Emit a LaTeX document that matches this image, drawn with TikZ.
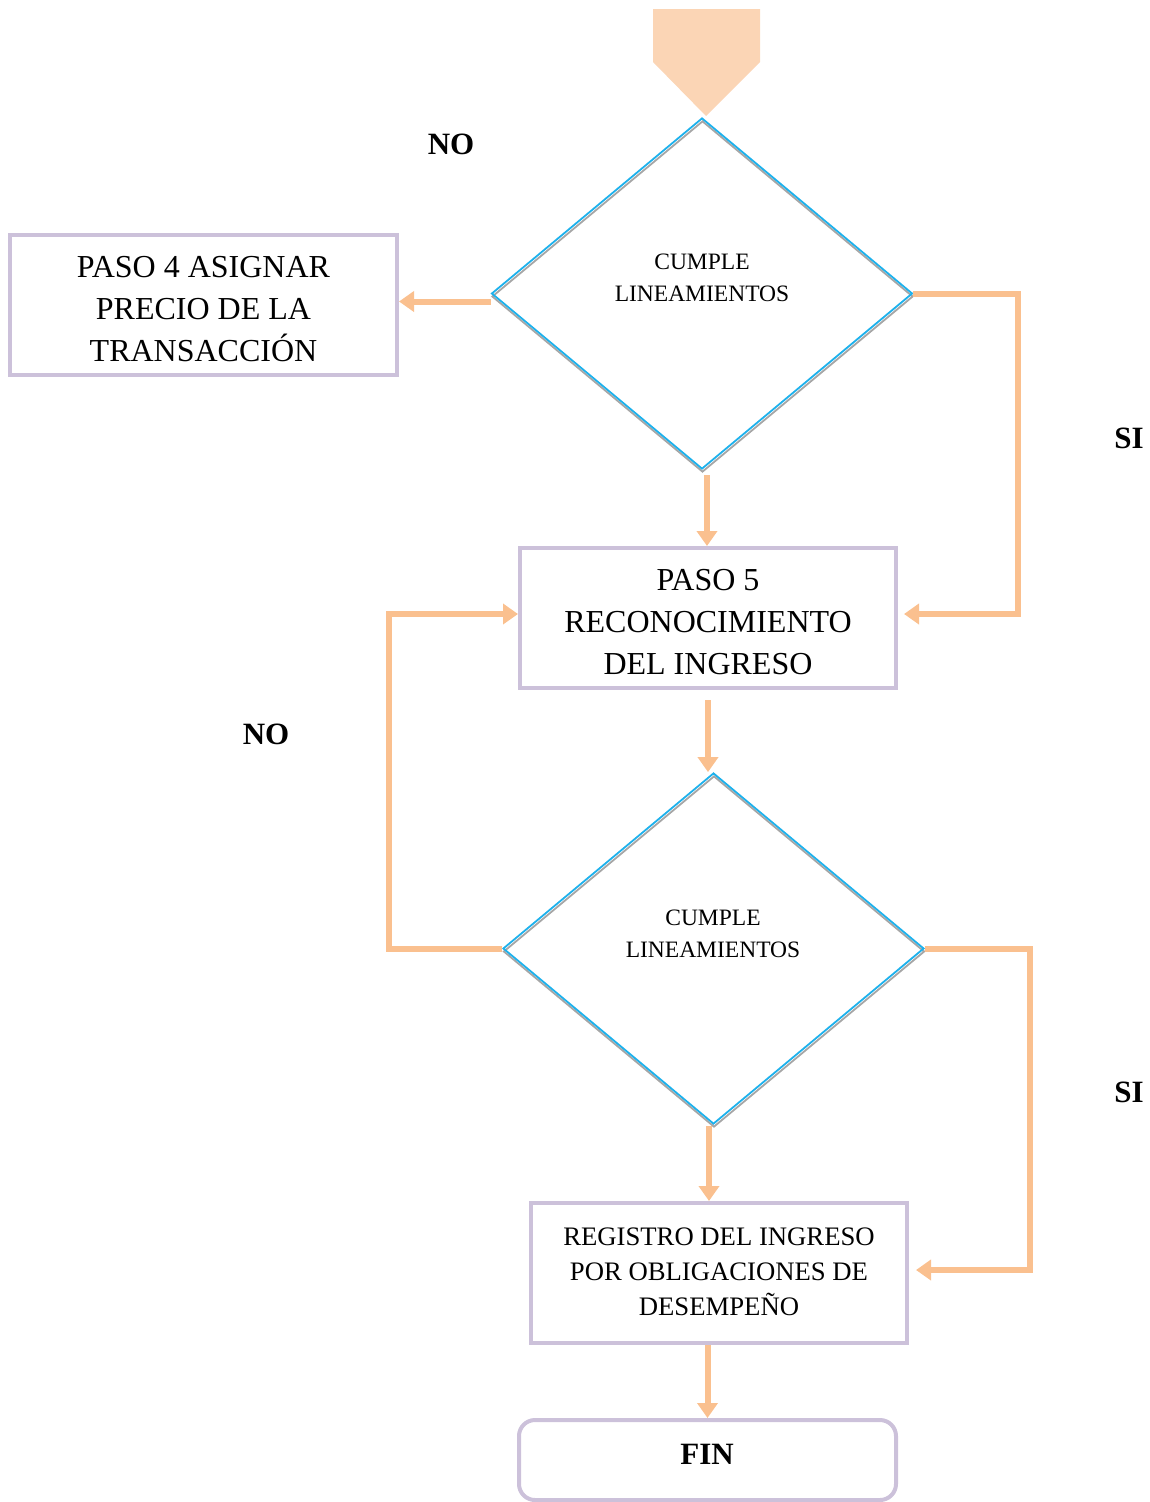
\documentclass[tikz,border=0pt]{standalone}
\usepackage{fontspec}
\setmainfont{Liberation Serif}
\usetikzlibrary{shapes.geometric,arrows.meta}
\definecolor{flow}{HTML}{FAC08F}
\definecolor{frame}{HTML}{CCC1DA}
\definecolor{decide}{HTML}{1DB1EC}
\definecolor{shade}{HTML}{A6A6A6}
\definecolor{startfill}{HTML}{FBD5B5}
\tikzset{
  stepbox/.style={draw=frame, line width=4pt, rectangle,
    minimum width=#1, minimum height=140pt, inner sep=0pt},
  stepbox/.default=377pt,
  decision/.style={diamond, draw=decide, line width=1.8pt, minimum width=421pt,
    minimum height=351pt, inner sep=0pt,
    preaction={draw=shade, line width=1.8pt, transform canvas={xshift=0.5pt,yshift=-3pt}}},
  dtext/.style={font=\fontsize{23.5}{32}\selectfont, align=center},
  big/.style={font=\fontsize{32}{42}\selectfont, align=center},
  mid/.style={font=\fontsize{26.7}{35}\selectfont, align=center},
  tag/.style={font=\fontsize{31}{36}\selectfont\bfseries},
  arr/.style={draw=flow, line width=6pt, -{Triangle[length=15pt,width=20pt]}},
}
\begin{document}
\begin{tikzpicture}[x=1pt,y=-1pt]
\useasboundingbox (0,0) rectangle (1150,1502);

% start marker
\fill[startfill] (653,9) -- (760,9) -- (760,62) -- (706,116) -- (653,62) -- cycle;

% first decision
\node[decision] (d1) at (702,293.5) {};
\node[dtext] (d1t) at (702,278) {CUMPLE\\LINEAMIENTOS};

% step 4
\node[stepbox=387pt] (b1) at (203.5,305) {};
\node[big] (b1t) at (203.5,309) {PASO 4 ASIGNAR\\PRECIO DE LA\\TRANSACCIÓN};

% step 5
\node[stepbox=376pt] (b2) at (708,618) {};
\node[big] (b2t) at (708,622.5) {PASO 5\\RECONOCIMIENTO\\DEL INGRESO};

% second decision
\node[decision] (d2) at (713.5,948.5) {};
\node[dtext] (d2t) at (713,934) {CUMPLE\\LINEAMIENTOS};

% revenue record
\node[stepbox=376pt] (b3) at (719,1273) {};
\node[mid] (b3t) at (719,1272) {REGISTRO DEL INGRESO\\POR OBLIGACIONES DE\\DESEMPEÑO};

% end
\node[draw=frame, line width=4pt, rounded corners=16pt, minimum width=377pt,
  minimum height=80pt, inner sep=0pt] (fin) at (707.5,1460) {};
\node[tag] (fint) at (707,1454) {FIN};

% labels
\node[tag] (no1) at (451,144) {NO};
\node[tag] (si1) at (1129,438) {SI};
\node[tag] (no2) at (266,734) {NO};
\node[tag] (si2) at (1129,1092) {SI};

% loop corners
\coordinate (r1) at (1018,614);
\coordinate (l2) at (389,614);
\coordinate (r2) at (1030,1270);
\coordinate (a1) at (707,475);
\coordinate (a3) at (709,1126);

% connectors
\draw[arr] ([yshift=-8pt]d1.west) -- ([yshift=-8pt]d1.west -| b1.east);
\draw[arr] (d1.east) -| (r1) -- ([xshift=6pt]r1 -| b2.east);
\draw[arr] (a1) -- (a1 |- b2.north);
\draw[arr, shorten <=10pt] (b2.south) -- (b2.south |- d2.north);
\draw[arr] (d2.west) -| (l2) -- (l2 -| b2.west);
\draw[arr] (d2.east) -| (r2) -- ([xshift=7pt]r2 -| b3.east);
\draw[arr] (a3) -- (a3 |- b3.north);
\draw[arr] (fin.north |- b3.south) -- (fin.north);
\end{tikzpicture}
\end{document}
